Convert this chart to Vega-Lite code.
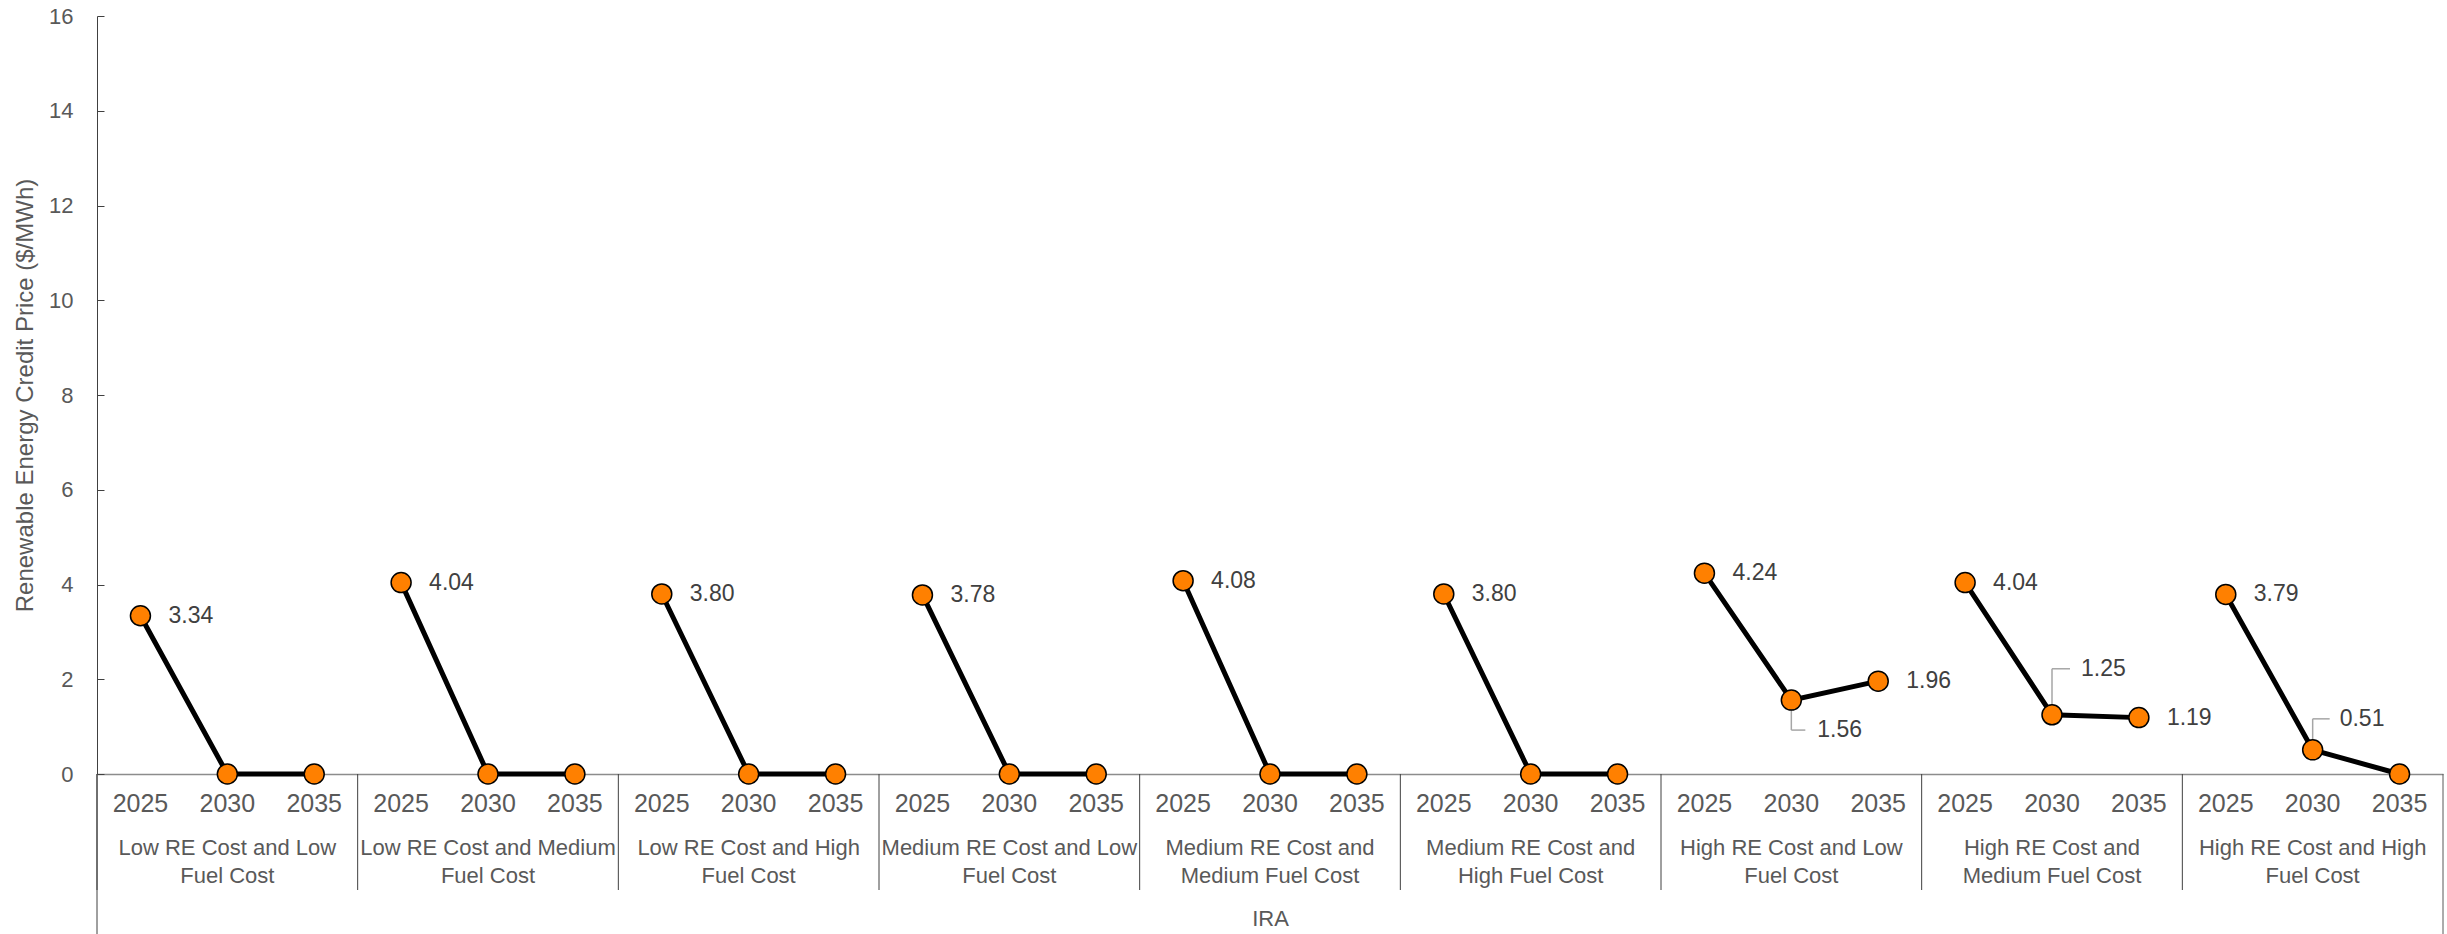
{
  "$schema": "https://vega.github.io/schema/vega-lite/v6.json",
  "width": 2346,
  "height": 758,
  "autosize": {"type": "none"},
  "padding": {"left": 97, "top": 16, "right": 4, "bottom": 160},
  "background": "white",
  "config": {
    "view": {"stroke": null},
    "font": "Liberation Sans"
  },
  "data": {"values": [
    {"scenario": "Low RE Cost and Low Fuel Cost", "year": "2025", "slot": "1|Low RE Cost and Low Fuel Cost|2025", "value": 3.34},
    {"scenario": "Low RE Cost and Low Fuel Cost", "year": "2030", "slot": "1|Low RE Cost and Low Fuel Cost|2030", "value": 0},
    {"scenario": "Low RE Cost and Low Fuel Cost", "year": "2035", "slot": "1|Low RE Cost and Low Fuel Cost|2035", "value": 0},
    {"scenario": "Low RE Cost and Medium Fuel Cost", "year": "2025", "slot": "2|Low RE Cost and Medium Fuel Cost|2025", "value": 4.04},
    {"scenario": "Low RE Cost and Medium Fuel Cost", "year": "2030", "slot": "2|Low RE Cost and Medium Fuel Cost|2030", "value": 0},
    {"scenario": "Low RE Cost and Medium Fuel Cost", "year": "2035", "slot": "2|Low RE Cost and Medium Fuel Cost|2035", "value": 0},
    {"scenario": "Low RE Cost and High Fuel Cost", "year": "2025", "slot": "3|Low RE Cost and High Fuel Cost|2025", "value": 3.80},
    {"scenario": "Low RE Cost and High Fuel Cost", "year": "2030", "slot": "3|Low RE Cost and High Fuel Cost|2030", "value": 0},
    {"scenario": "Low RE Cost and High Fuel Cost", "year": "2035", "slot": "3|Low RE Cost and High Fuel Cost|2035", "value": 0},
    {"scenario": "Medium RE Cost and Low Fuel Cost", "year": "2025", "slot": "4|Medium RE Cost and Low Fuel Cost|2025", "value": 3.78},
    {"scenario": "Medium RE Cost and Low Fuel Cost", "year": "2030", "slot": "4|Medium RE Cost and Low Fuel Cost|2030", "value": 0},
    {"scenario": "Medium RE Cost and Low Fuel Cost", "year": "2035", "slot": "4|Medium RE Cost and Low Fuel Cost|2035", "value": 0},
    {"scenario": "Medium RE Cost and Medium Fuel Cost", "year": "2025", "slot": "5|Medium RE Cost and Medium Fuel Cost|2025", "value": 4.08},
    {"scenario": "Medium RE Cost and Medium Fuel Cost", "year": "2030", "slot": "5|Medium RE Cost and Medium Fuel Cost|2030", "value": 0},
    {"scenario": "Medium RE Cost and Medium Fuel Cost", "year": "2035", "slot": "5|Medium RE Cost and Medium Fuel Cost|2035", "value": 0},
    {"scenario": "Medium RE Cost and High Fuel Cost", "year": "2025", "slot": "6|Medium RE Cost and High Fuel Cost|2025", "value": 3.80},
    {"scenario": "Medium RE Cost and High Fuel Cost", "year": "2030", "slot": "6|Medium RE Cost and High Fuel Cost|2030", "value": 0},
    {"scenario": "Medium RE Cost and High Fuel Cost", "year": "2035", "slot": "6|Medium RE Cost and High Fuel Cost|2035", "value": 0},
    {"scenario": "High RE Cost and Low Fuel Cost", "year": "2025", "slot": "7|High RE Cost and Low Fuel Cost|2025", "value": 4.24},
    {"scenario": "High RE Cost and Low Fuel Cost", "year": "2030", "slot": "7|High RE Cost and Low Fuel Cost|2030", "value": 1.56},
    {"scenario": "High RE Cost and Low Fuel Cost", "year": "2035", "slot": "7|High RE Cost and Low Fuel Cost|2035", "value": 1.96},
    {"scenario": "High RE Cost and Medium Fuel Cost", "year": "2025", "slot": "8|High RE Cost and Medium Fuel Cost|2025", "value": 4.04},
    {"scenario": "High RE Cost and Medium Fuel Cost", "year": "2030", "slot": "8|High RE Cost and Medium Fuel Cost|2030", "value": 1.25},
    {"scenario": "High RE Cost and Medium Fuel Cost", "year": "2035", "slot": "8|High RE Cost and Medium Fuel Cost|2035", "value": 1.19},
    {"scenario": "High RE Cost and High Fuel Cost", "year": "2025", "slot": "9|High RE Cost and High Fuel Cost|2025", "value": 3.79},
    {"scenario": "High RE Cost and High Fuel Cost", "year": "2030", "slot": "9|High RE Cost and High Fuel Cost|2030", "value": 0.51},
    {"scenario": "High RE Cost and High Fuel Cost", "year": "2035", "slot": "9|High RE Cost and High Fuel Cost|2035", "value": 0}
  ]},
  "layer": [
    {
      "mark": {"type": "line", "color": "#000000", "strokeWidth": 5},
      "encoding": {
        "x": {"field": "slot", "type": "ordinal", "scale": {"type": "band", "paddingInner": 0, "paddingOuter": 0},
          "axis": {"orient": "bottom", "title": null, "labelExpr": "split(datum.value,'|')[2]", "domain": true, "domainColor": "#8c8c8c", "domainWidth": 1.5, "ticks": false, "labelPadding": 29, "labelBaseline": "middle", "labelAngle": 0, "labelFont": "Liberation Sans", "labelFontSize": 25, "labelColor": "#595959", "labelOverlap": false, "labelBound": false, "labelLimit": 0, "grid": false}},
        "y": {"field": "value", "type": "quantitative", "scale": {"domain": [0, 16], "nice": false},
          "axis": {"title": "Renewable Energy Credit Price ($/MWh)", "titleFont": "Liberation Sans", "titleFontSize": 24, "titleFontWeight": "normal", "titleColor": "#595959", "titleX": -72, "titleBaseline": "middle", "values": [0, 2, 4, 6, 8, 10, 12, 14, 16], "tickSize": -7, "tickColor": "#404040", "domainColor": "#404040", "domainWidth": 1, "labelPadding": 31, "labelFont": "Liberation Sans", "labelFontSize": 22, "labelColor": "#595959", "grid": false}},
        "detail": {"field": "scenario"}
      }
    },
    {
      "transform": [{"filter": "datum.year == '2025'"}],
      "mark": {"type": "rule", "color": "#404040", "strokeWidth": 1, "y2Offset": 116},
      "encoding": {
        "x": {"field": "slot", "type": "ordinal", "bandPosition": 0, "scale": {"type": "band", "paddingInner": 0, "paddingOuter": 0}, "axis": null},
        "y": {"datum": 0, "type": "quantitative"},
        "y2": {"datum": 0}
      }
    },
    {
      "transform": [{"filter": "datum.year == '2025' && indexof(datum.slot, '1|') == 0"}],
      "mark": {"type": "rule", "color": "#404040", "strokeWidth": 1, "y2Offset": 160},
      "encoding": {
        "x": {"field": "slot", "type": "ordinal", "bandPosition": 0, "scale": {"type": "band", "paddingInner": 0, "paddingOuter": 0}, "axis": null},
        "y": {"datum": 0, "type": "quantitative"},
        "y2": {"datum": 0}
      }
    },
    {
      "transform": [{"filter": "datum.year == '2035' && indexof(datum.slot, '9|') == 0"}],
      "mark": {"type": "rule", "color": "#595959", "strokeWidth": 1, "y2Offset": 160},
      "encoding": {
        "x": {"field": "slot", "type": "ordinal", "bandPosition": 1, "scale": {"type": "band", "paddingInner": 0, "paddingOuter": 0}, "axis": null},
        "y": {"datum": 0, "type": "quantitative"},
        "y2": {"datum": 0}
      }
    },
    {
      "transform": [{"filter": "datum.year == '2030' && indexof(datum.slot, '7|') == 0"}],
      "mark": {"type": "rule", "color": "#a6a6a6", "strokeWidth": 1.5, "y2Offset": 30},
      "encoding": {
        "x": {"field": "slot", "type": "ordinal", "scale": {"type": "band", "paddingInner": 0, "paddingOuter": 0}, "axis": null},
        "y": {"field": "value", "type": "quantitative"},
        "y2": {"field": "value"}
      }
    },
    {
      "transform": [{"filter": "datum.year == '2030' && indexof(datum.slot, '7|') == 0"}],
      "mark": {"type": "rule", "color": "#a6a6a6", "strokeWidth": 1.5, "yOffset": 30, "x2Offset": 14},
      "encoding": {
        "x": {"field": "slot", "type": "ordinal", "scale": {"type": "band", "paddingInner": 0, "paddingOuter": 0}, "axis": null},
        "x2": {"field": "slot"},
        "y": {"field": "value", "type": "quantitative"}
      }
    },
    {
      "transform": [{"filter": "datum.year == '2030' && indexof(datum.slot, '8|') == 0"}],
      "mark": {"type": "rule", "color": "#a6a6a6", "strokeWidth": 1.5, "y2Offset": -46},
      "encoding": {
        "x": {"field": "slot", "type": "ordinal", "scale": {"type": "band", "paddingInner": 0, "paddingOuter": 0}, "axis": null},
        "y": {"field": "value", "type": "quantitative"},
        "y2": {"field": "value"}
      }
    },
    {
      "transform": [{"filter": "datum.year == '2030' && indexof(datum.slot, '8|') == 0"}],
      "mark": {"type": "rule", "color": "#a6a6a6", "strokeWidth": 1.5, "yOffset": -46, "x2Offset": 18},
      "encoding": {
        "x": {"field": "slot", "type": "ordinal", "scale": {"type": "band", "paddingInner": 0, "paddingOuter": 0}, "axis": null},
        "x2": {"field": "slot"},
        "y": {"field": "value", "type": "quantitative"}
      }
    },
    {
      "transform": [{"filter": "datum.year == '2030' && indexof(datum.slot, '9|') == 0"}],
      "mark": {"type": "rule", "color": "#a6a6a6", "strokeWidth": 1.5, "y2Offset": -31},
      "encoding": {
        "x": {"field": "slot", "type": "ordinal", "scale": {"type": "band", "paddingInner": 0, "paddingOuter": 0}, "axis": null},
        "y": {"field": "value", "type": "quantitative"},
        "y2": {"field": "value"}
      }
    },
    {
      "transform": [{"filter": "datum.year == '2030' && indexof(datum.slot, '9|') == 0"}],
      "mark": {"type": "rule", "color": "#a6a6a6", "strokeWidth": 1.5, "yOffset": -31, "x2Offset": 17},
      "encoding": {
        "x": {"field": "slot", "type": "ordinal", "scale": {"type": "band", "paddingInner": 0, "paddingOuter": 0}, "axis": null},
        "x2": {"field": "slot"},
        "y": {"field": "value", "type": "quantitative"}
      }
    },
    {
      "mark": {"type": "point", "shape": "circle", "filled": true, "fill": "#FF8000", "stroke": "#000000", "strokeWidth": 1.5, "size": 400, "opacity": 1},
      "encoding": {
        "x": {"field": "slot", "type": "ordinal", "scale": {"type": "band", "paddingInner": 0, "paddingOuter": 0},
          "axis": {"orient": "bottom", "title": "IRA", "titleY": 144, "titleBaseline": "middle", "titleFont": "Liberation Sans", "titleFontSize": 22, "titleFontWeight": "normal", "titleColor": "#595959",
            "labelExpr": "split(datum.value,'|')[2] != '2030' ? '' : (length(replace(split(datum.value,'|')[1],' Fuel Cost','')) <= 22 ? [replace(split(datum.value,'|')[1],' Fuel Cost',''), 'Fuel Cost'] : [split(split(datum.value,'|')[1],' and ')[0] + ' and', split(split(datum.value,'|')[1],' and ')[1]])",
            "domain": false, "ticks": false, "labelPadding": 63, "labelBaseline": "top", "labelAngle": 0, "labelFont": "Liberation Sans", "labelFontSize": 22, "labelLineHeight": 28, "labelColor": "#595959", "labelOverlap": false, "labelBound": false, "labelLimit": 0, "grid": false}},
        "y": {"field": "value", "type": "quantitative"}
      }
    },
    {
      "transform": [{"filter": "datum.value > 0 && datum.year != '2030'"}],
      "mark": {"type": "text", "align": "left", "baseline": "middle", "dx": 28, "font": "Liberation Sans", "fontSize": 23, "color": "#404040"},
      "encoding": {
        "x": {"field": "slot", "type": "ordinal", "scale": {"type": "band", "paddingInner": 0, "paddingOuter": 0}, "axis": null},
        "y": {"field": "value", "type": "quantitative"},
        "text": {"field": "value", "type": "quantitative", "format": ".2f"}
      }
    },
    {
      "transform": [{"filter": "datum.year == '2030' && indexof(datum.slot, '7|') == 0"}],
      "mark": {"type": "text", "align": "left", "baseline": "middle", "dx": 26, "dy": 30, "font": "Liberation Sans", "fontSize": 23, "color": "#404040"},
      "encoding": {
        "x": {"field": "slot", "type": "ordinal", "scale": {"type": "band", "paddingInner": 0, "paddingOuter": 0}, "axis": null},
        "y": {"field": "value", "type": "quantitative"},
        "text": {"field": "value", "type": "quantitative", "format": ".2f"}
      }
    },
    {
      "transform": [{"filter": "datum.year == '2030' && indexof(datum.slot, '8|') == 0"}],
      "mark": {"type": "text", "align": "left", "baseline": "middle", "dx": 29, "dy": -46, "font": "Liberation Sans", "fontSize": 23, "color": "#404040"},
      "encoding": {
        "x": {"field": "slot", "type": "ordinal", "scale": {"type": "band", "paddingInner": 0, "paddingOuter": 0}, "axis": null},
        "y": {"field": "value", "type": "quantitative"},
        "text": {"field": "value", "type": "quantitative", "format": ".2f"}
      }
    },
    {
      "transform": [{"filter": "datum.year == '2030' && indexof(datum.slot, '9|') == 0"}],
      "mark": {"type": "text", "align": "left", "baseline": "middle", "dx": 27, "dy": -31, "font": "Liberation Sans", "fontSize": 23, "color": "#404040"},
      "encoding": {
        "x": {"field": "slot", "type": "ordinal", "scale": {"type": "band", "paddingInner": 0, "paddingOuter": 0}, "axis": null},
        "y": {"field": "value", "type": "quantitative"},
        "text": {"field": "value", "type": "quantitative", "format": ".2f"}
      }
    }
  ],
  "resolve": {"axis": {"x": "independent"}}
}
